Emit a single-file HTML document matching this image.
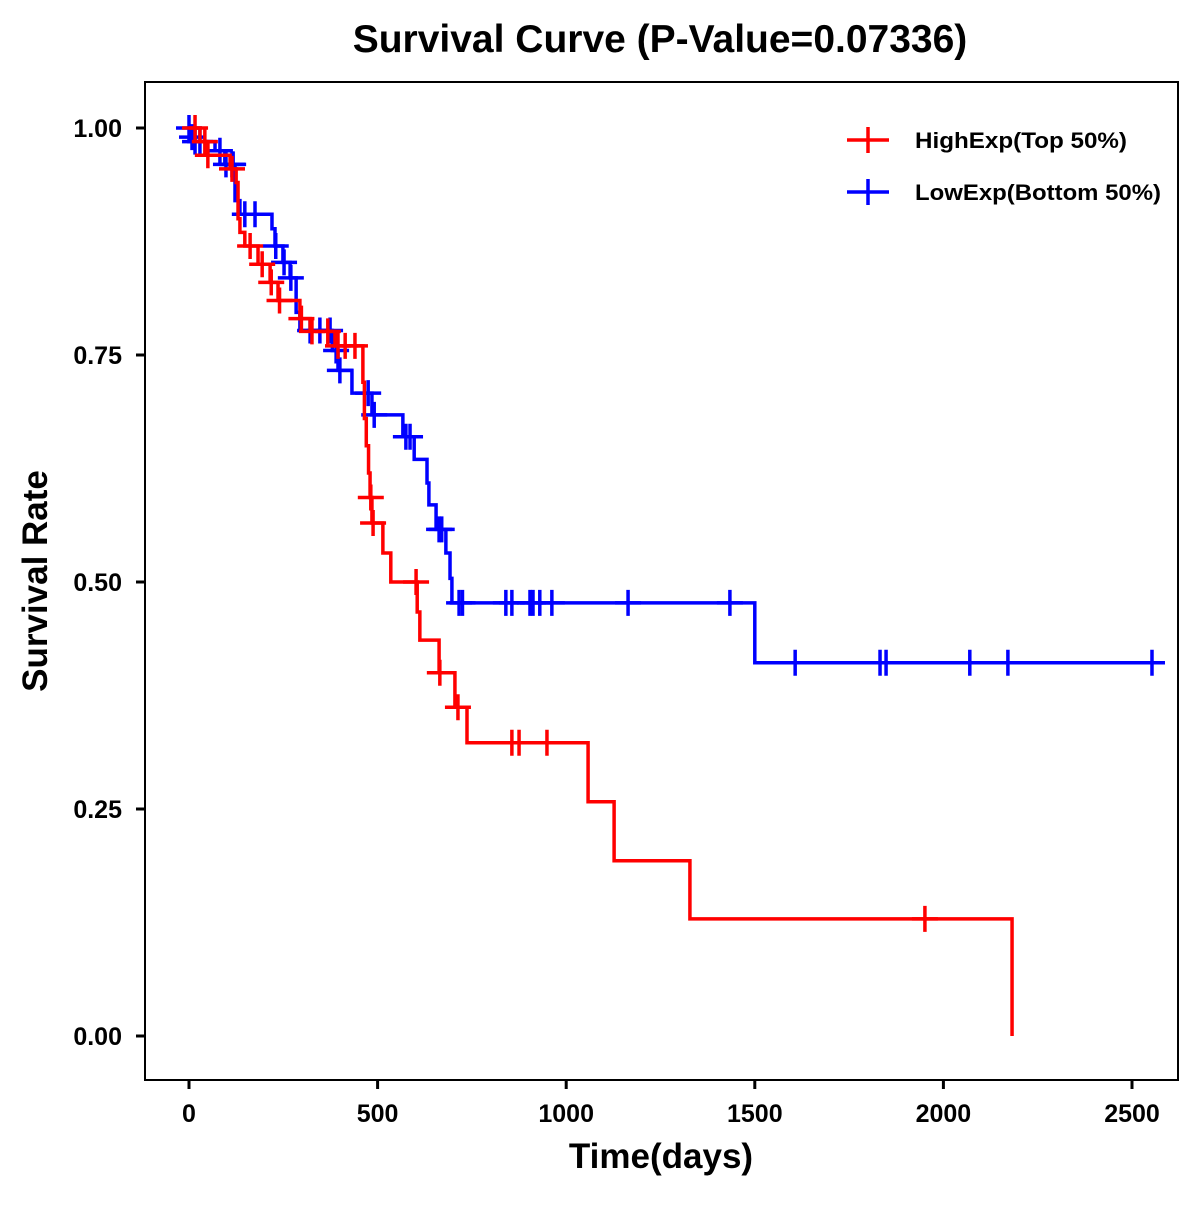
<!DOCTYPE html>
<html><head><meta charset="utf-8"><style>
body{margin:0;background:#fff}
text{font-family:"Liberation Sans",Arial,sans-serif;font-weight:bold}
</style></head><body>
<svg id="chart" width="1200" height="1200" xmlns="http://www.w3.org/2000/svg">
<rect width="1200" height="1200" fill="#fff"/>
<text x="660" y="52" font-size="39" text-anchor="middle">Survival Curve (P-Value=0.07336)</text>
<rect x="145" y="82" width="1033" height="998" fill="none" stroke="#000" stroke-width="2"/>
<g id="xticks"></g>
<g id="yticks"></g>
<text x="661" y="1168" font-size="35" text-anchor="middle">Time(days)</text>
<text transform="translate(47,581) rotate(-90)" font-size="35" text-anchor="middle">Survival Rate</text>
<g id="series"></g>
<g>
<g>
<line x1="847" y1="140" x2="889" y2="140" stroke="#f00" stroke-width="3.5"/><line x1="868" y1="127" x2="868" y2="153" stroke="#f00" stroke-width="3.5"/>
<text x="915" y="148" font-size="22" textLength="212" lengthAdjust="spacingAndGlyphs">HighExp(Top 50%)</text></g>
<g>
<line x1="847" y1="192" x2="889" y2="192" stroke="#00f" stroke-width="3.5"/><line x1="868" y1="179" x2="868" y2="205" stroke="#00f" stroke-width="3.5"/>
<text x="915" y="200" font-size="22" textLength="246" lengthAdjust="spacingAndGlyphs">LowExp(Bottom 50%)</text></g>
</g>
</svg>
<script>
const xTicks=[0,500,1000,1500,2000,2500];
const yTicks=[0,0.25,0.5,0.75,1];
const yTickLabels=["0.00","0.25","0.50","0.75","1.00"];
const highTimes=[29,50,109,125,130,135,148,183,215,236,294,321,387,461,465,470,476,480,485,514,535,605,612,663,705,737,1058,1127,1328,2182];
const highSurv=[0.985,0.97,0.955,0.94,0.90,0.885,0.87,0.85,0.83,0.81,0.79,0.776,0.76,0.72,0.68,0.65,0.62,0.593,0.565,0.532,0.50,0.467,0.436,0.40,0.362,0.323,0.258,0.193,0.129,0];
const highEnd=2182;
const highCensor=[16,42,50,114,162,194,218,240,298,326,368,395,414,440,482,488,602,665,713,856,875,949,1951];
const lowTimes=[3,16,69,95,122,135,220,228,249,268,284,294,380,395,432,485,567,597,631,636,655,681,692,697,1500];
const lowSurv=[0.99,0.985,0.975,0.96,0.92,0.905,0.889,0.87,0.852,0.835,0.797,0.777,0.755,0.733,0.708,0.684,0.66,0.635,0.609,0.585,0.558,0.532,0.504,0.477,0.411];
const lowEnd=2561;
const lowCensor=[0,8,16,29,82,98,114,117,148,175,230,252,270,321,347,374,390,400,475,491,575,586,663,670,716,725,840,856,904,912,930,962,1164,1434,1607,1832,1848,2070,2171,2553];
const X=t=>189+t*(1132-189)/2500;
const Y=s=>1036-s*908;
const NS="http://www.w3.org/2000/svg";
function mk(tag,attrs,parent){const e=document.createElementNS(NS,tag);for(const k in attrs)e.setAttribute(k,attrs[k]);parent.appendChild(e);return e;}
const xg=document.getElementById('xticks'),yg=document.getElementById('yticks');
xTicks.forEach(v=>{
 const l=mk('line',{x1:X(v),x2:X(v),y1:1080,y2:1089,stroke:'#000','stroke-width':3},xg);
 
 
 const t=mk('text',{x:X(v),y:1122,'font-size':25,'text-anchor':'middle'},xg);t.textContent=v;
 
 
});
yTicks.forEach((v,i)=>{
 const l=mk('line',{x1:136,x2:145,y1:Y(v),y2:Y(v),stroke:'#000','stroke-width':3},yg);
 
 
 const t=mk('text',{x:122,y:Y(v)+9,'font-size':25,'text-anchor':'end'},yg);t.textContent=yTickLabels[i];
 
 
});
function survAt(times,surv,t){let s=1;for(let i=0;i<times.length;i++){if(times[i]<=t)s=surv[i];else break;}return s;}
function draw(times,surv,end,cens,color,name){
 const g=mk('g',{},document.getElementById('series'));
 
 
 let d='M'+X(0)+','+Y(1);
 for(let i=0;i<times.length;i++){d+=' H'+X(times[i])+' V'+Y(surv[i]);}
 d+=' H'+X(end);
 const p=mk('path',{d:d,fill:'none',stroke:color,'stroke-width':3.5},g);
 
 
 cens.forEach(t=>{
  const y=Y(survAt(times,surv,t)),x=X(t);
  const c=mk('path',{d:`M${x-13},${y} H${x+13} M${x},${y-13} V${y+13}`,stroke:color,'stroke-width':3.5,fill:'none'},g);
  
  
 });
}
draw(lowTimes,lowSurv,lowEnd,lowCensor,'#00f','low-exp');
draw(highTimes,highSurv,highEnd,highCensor,'#f00','high-exp');
</script>
</body></html>
